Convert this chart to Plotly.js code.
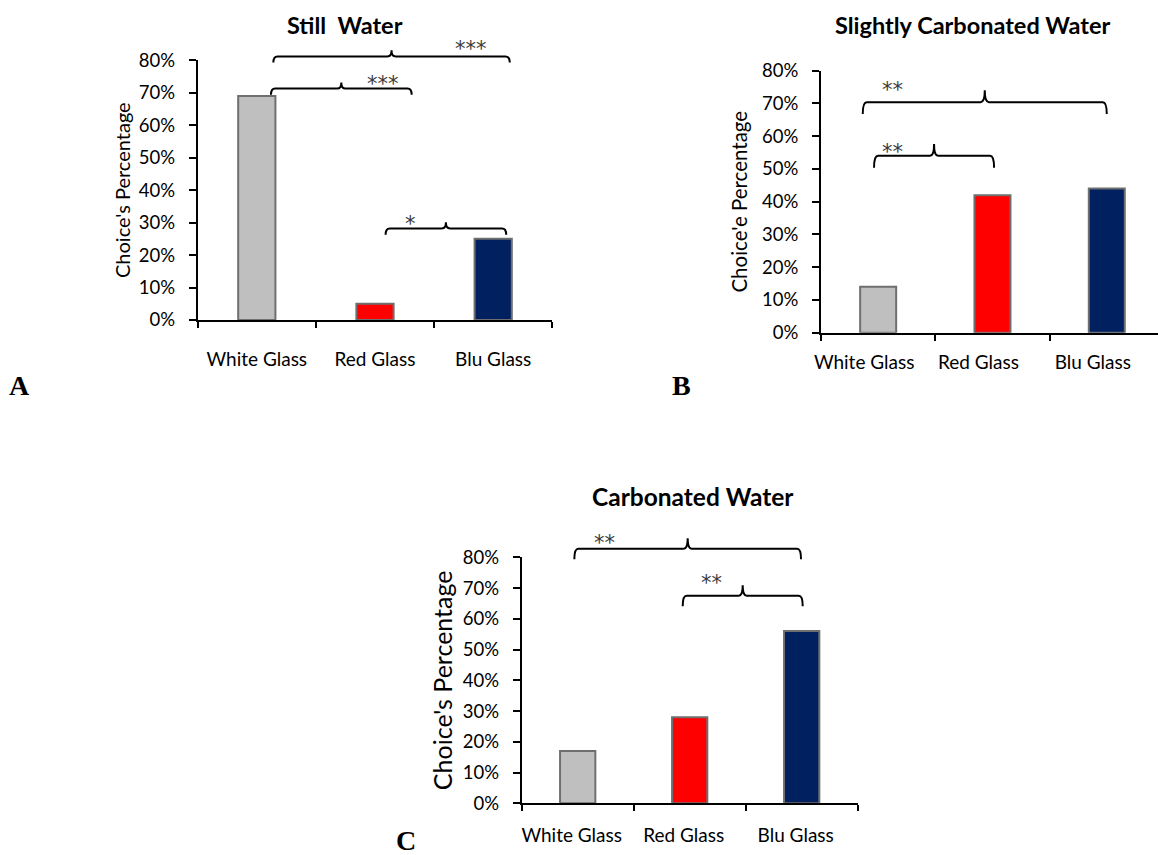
<!DOCTYPE html>
<html>
<head>
<meta charset="utf-8">
<script src="https://cdn.plot.ly/plotly-3.0.1.min.js"></script>
<style>
html,body{margin:0;padding:0;background:#ffffff;}
#chart{width:1158px;height:855px;}
</style>
</head>
<body>
<div id="chart"></div>
<script>
// ---------------- DATA ----------------
const categories = ['White Glass', 'Red Glass', 'Blu Glass'];
const stillWater = [69, 5, 25];
const slightlyCarbonatedWater = [14, 42, 44];
const carbonatedWater = [17, 28, 56];
const panelTitles = ['Still  Water', 'Slightly Carbonated Water', 'Carbonated Water'];
const yAxisTitles = ["Choice's Percentage", "Choice'e Percentage", "Choice's Percentage"];
const panelLetters = ['A', 'B', 'C'];
const yTickValues = [0, 10, 20, 30, 40, 50, 60, 70, 80];
const yTickLabels = ['0%', '10%', '20%', '30%', '40%', '50%', '60%', '70%', '80%'];

// significance brackets: from / to (category position), level (%), label, label position
const bracketsStill = [
  {from: 0.14, to: 2.14, level: 81.2, label: '***', labelX: 1.81, labelY: 84.9},
  {from: 0.12, to: 1.31, level: 71.3, label: '***', labelX: 1.065, labelY: 74.2},
  {from: 1.09, to: 2.11, level: 28.2, label: '*', labelX: 1.30, labelY: 31.1}
];
const bracketsSlightly = [
  {from: -0.135, to: 2.0, level: 70.4, label: '**', labelX: 0.124, labelY: 75.6},
  {from: -0.036, to: 1.014, level: 54.0, label: '**', labelX: 0.124, labelY: 56.8}
];
const bracketsCarbonated = [
  {from: -0.03, to: 1.994, level: 82.8, label: '**', labelX: 0.235, labelY: 86.2},
  {from: 0.9375, to: 2.009, level: 67.5, label: '**', labelX: 1.196, labelY: 73.2}
];

// ---------------- STYLE / LAYOUT ----------------
const barColors = ['#BFBFBF', '#FF0000', '#002060'];
const FONT = 'Lato, "Open Sans", sans-serif';
const STAR_FONT = '"DejaVu Sans", sans-serif';

const panels = [
  {values: stillWater, brackets: bracketsStill,
   xDomain: [0.17073, 0.47694], yDomain: [0.62573, 0.92947], yTop: 0.965, xRange: [-0.5, 2.5],
   hook: 1.9, ytitleSize: 20, tickShift: 0, xStandoff: 21, titleSize: 23.5, yStandoff: 3,
   title: {x: 0.2979, y: 0.9708}, letter: {x: 0.01727, y: 0.5497}},
  {values: slightlyCarbonatedWater, brackets: bracketsSlightly,
   xDomain: [0.70898, 1.0], yDomain: [0.61088, 0.91731], yTop: 0.95, xRange: [-0.5, 2.448],
   hook: 3.6, ytitleSize: 20.5, tickShift: -14, xStandoff: 12, titleSize: 23.5, yStandoff: 9,
   title: {x: 0.8405, y: 0.9708}, letter: {x: 0.5887, y: 0.5497}},
  {values: carbonatedWater, brackets: bracketsCarbonated,
   xDomain: [0.45052, 0.74067], yDomain: [0.06047, 0.34819], yTop: 0.395, xRange: [-0.5, 2.5],
   hook: 3.4, ytitleSize: 25, tickShift: -6, xStandoff: 14, titleSize: 24.5, yStandoff: 3,
   title: {x: 0.5987, y: 0.4191}, letter: {x: 0.3506, y: 0.0175}}
];

const traces = [];
const shapes = [];
const annotations = [];
const layout = {
  width: 1158, height: 855,
  margin: {l: 0, r: 0, t: 0, b: 0},
  paper_bgcolor: '#ffffff', plot_bgcolor: 'rgba(0,0,0,0)',
  showlegend: false,
  font: {family: FONT, color: '#000000'},
  bargap: 0
};

panels.forEach((p, i) => {
  const n = i === 0 ? '' : String(i + 1);
  const xId = 'x' + n, yId = 'y' + n, ybId = 'y' + (i + 4);
  traces.push({
    type: 'bar', x: categories, y: p.values, xaxis: xId, yaxis: yId,
    width: 0.315,
    marker: {color: barColors, line: {color: '#6F6F6F', width: 2}},
    hoverinfo: 'x+y'
  });
  traces.push({type: 'scatter', mode: 'markers', x: [], y: [], xaxis: xId, yaxis: ybId, hoverinfo: 'skip'});

  layout['xaxis' + n] = {
    type: 'category', domain: p.xDomain, range: p.xRange, anchor: yId,
    showline: true, linecolor: '#000000', linewidth: 2,
    ticks: 'outside', tickson: 'boundaries', ticklen: 6, tickwidth: 2, tickcolor: '#000000',
    tickfont: {family: FONT, size: 19, color: '#000000'},
    ticklabelstandoff: p.xStandoff, ticklabelshift: p.tickShift,
    showgrid: false, zeroline: false, fixedrange: true
  };
  layout['yaxis' + n] = {
    type: 'linear', domain: p.yDomain, range: [0, 80], anchor: xId,
    tickmode: 'array', tickvals: yTickValues, ticktext: yTickLabels,
    showline: true, linecolor: '#000000', linewidth: 2,
    ticks: 'outside', ticklen: 7, tickwidth: 2, tickcolor: '#000000',
    tickfont: {family: FONT, size: 18.5, color: '#000000'},
    ticklabelstandoff: 10,
    showgrid: false, zeroline: false, fixedrange: true,
    title: {text: yAxisTitles[i], font: {family: FONT, size: p.ytitleSize, color: '#000000'}, standoff: p.yStandoff}
  };
  const extTop = 80 * (p.yTop - p.yDomain[0]) / (p.yDomain[1] - p.yDomain[0]);
  layout['yaxis' + (i + 4)] = {
    type: 'linear', domain: [p.yDomain[0], p.yTop], range: [0, extTop], anchor: xId,
    showline: false, showticklabels: false, ticks: '', showgrid: false, zeroline: false, fixedrange: true
  };

  p.brackets.forEach(b => {
    const r = 0.035, m = (b.from + b.to) / 2, L = b.level, h = p.hook;
    const path = 'M ' + b.from + ',' + (L - h) +
      ' Q ' + b.from + ',' + L + ' ' + (b.from + r) + ',' + L +
      ' L ' + (m - r) + ',' + L +
      ' Q ' + m + ',' + L + ' ' + m + ',' + (L + h) +
      ' Q ' + m + ',' + L + ' ' + (m + r) + ',' + L +
      ' L ' + (b.to - r) + ',' + L +
      ' Q ' + b.to + ',' + L + ' ' + b.to + ',' + (L - h);
    shapes.push({type: 'path', xref: xId, yref: ybId, path: path, line: {color: '#000000', width: 2}, layer: 'above'});
    annotations.push({xref: xId, yref: ybId, x: b.labelX, y: b.labelY, text: b.label, showarrow: false,
      xanchor: 'center', yanchor: 'middle', yshift: -5,
      font: {family: STAR_FONT, size: 21, color: '#3A3A3A'}});
  });

  annotations.push({xref: 'paper', yref: 'paper', x: p.title.x, y: p.title.y, text: '<b>' + panelTitles[i] + '</b>',
    showarrow: false, xanchor: 'center', yanchor: 'middle', font: {family: FONT, size: p.titleSize, color: '#000000'}});
  annotations.push({xref: 'paper', yref: 'paper', x: p.letter.x, y: p.letter.y, text: '<b>' + panelLetters[i] + '</b>',
    showarrow: false, xanchor: 'center', yanchor: 'middle', font: {family: '"Liberation Serif", "Times New Roman", serif', size: 28, color: '#000000'}});
});

layout.shapes = shapes;
layout.annotations = annotations;

Plotly.newPlot('chart', traces, layout, {displayModeBar: false, staticPlot: true});
</script>
</body>
</html>
